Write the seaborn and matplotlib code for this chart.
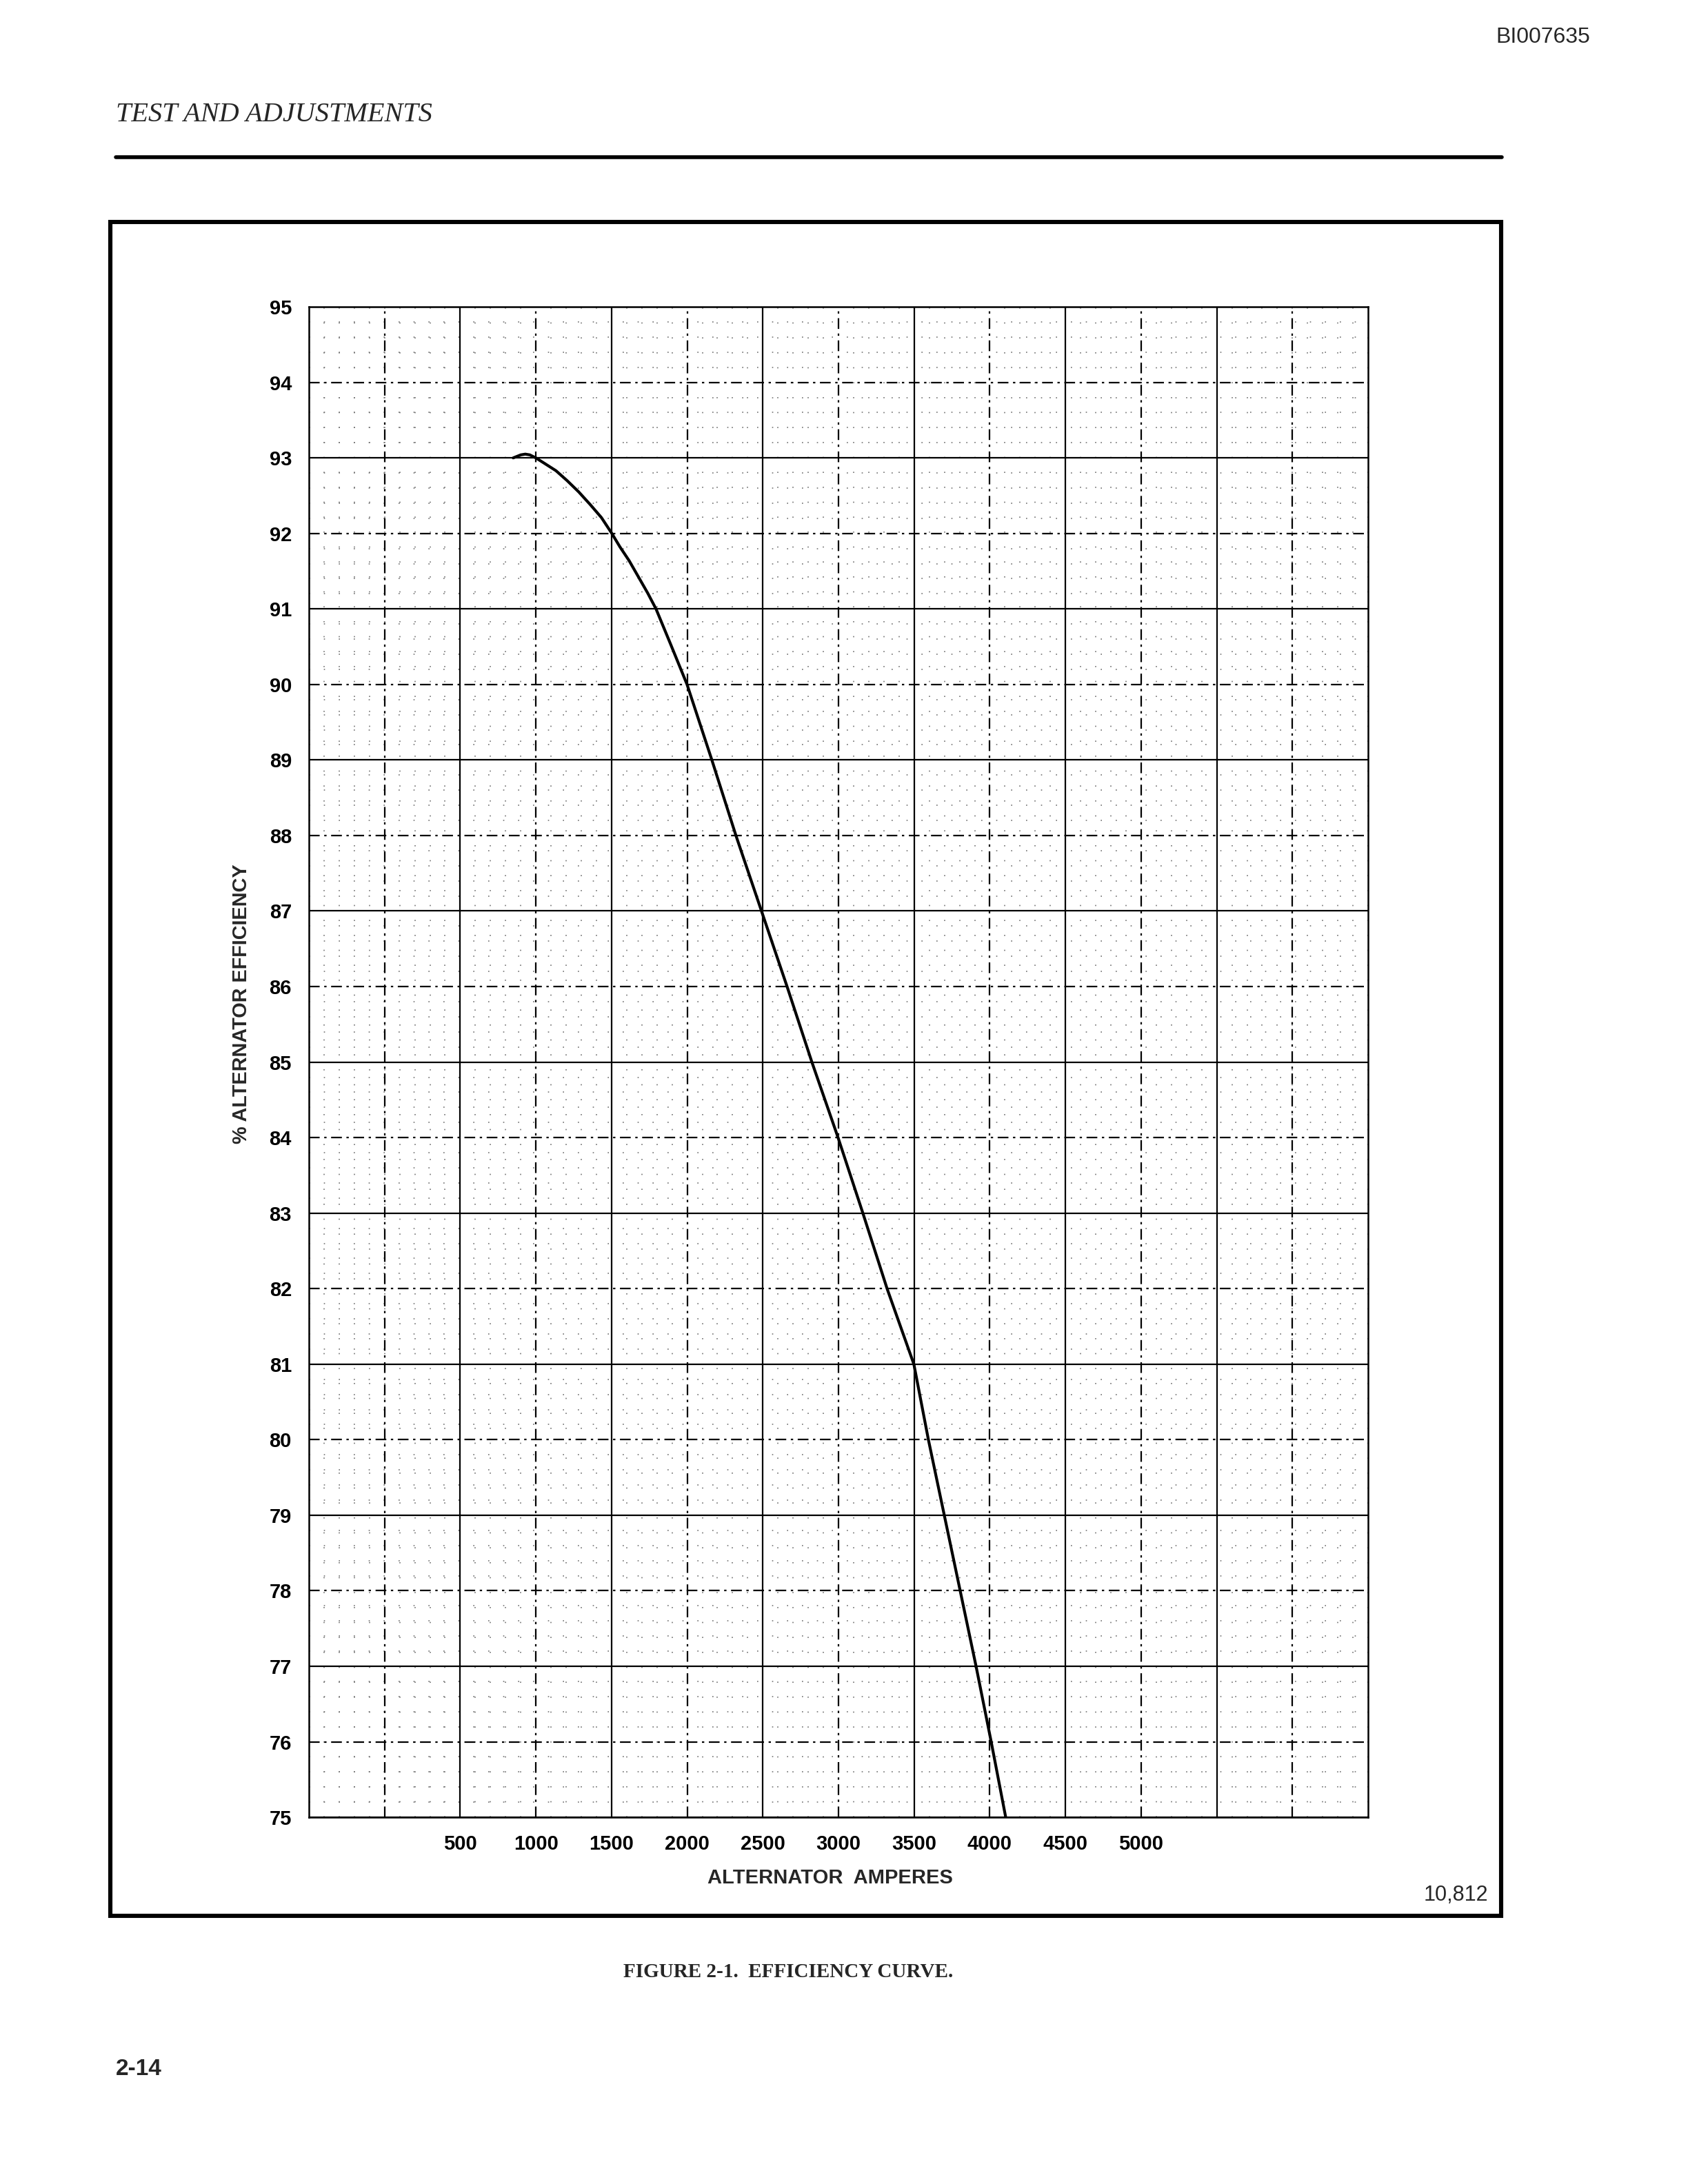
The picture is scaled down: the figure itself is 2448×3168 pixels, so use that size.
import numpy as np
import pandas as pd
import seaborn as sns
import matplotlib.pyplot as plt
from matplotlib.patches import Rectangle
from matplotlib.lines import Line2D

# values
amperes = [850, 900, 930, 960, 1000, 1055, 1133, 1206, 1283, 1360, 1433, 1502,
           1556, 1616, 1679, 1739, 1794, 1889, 1999, 2163, 2322, 2491, 2660,
           2824, 2997, 3161, 3321, 3498, 3594, 3699, 3804, 3909, 4009, 4105]
efficiency = [93.0, 93.04, 93.05, 93.04, 93.0, 92.93, 92.83, 92.70, 92.55, 92.38,
              92.21, 92.0, 91.82, 91.64, 91.42, 91.21, 91.0, 90.54, 90.0, 89,
              88, 87, 86, 85, 84, 83, 82, 81, 80, 79, 78, 77, 76, 75]

x_ticks = [500, 1000, 1500, 2000, 2500, 3000, 3500, 4000, 4500, 5000]
y_ticks = list(range(75, 96))

df = pd.DataFrame({'amps': amperes, 'eff': efficiency})

sns.set_theme(style="white")
plt.rcParams['font.family'] = ['Liberation Sans', 'DejaVu Sans']

fig = plt.figure(figsize=(12.24, 15.84), dpi=200)
ax = fig.add_axes([0.1830, 0.1679, 0.6275, 0.6916])

ax.set_xlim(-500, 6500)
ax.set_ylim(75, 95)

# graph paper: faint dotted minor grid
ax.set_xticks(np.arange(-500, 6501, 100), minor=True)
ax.set_yticks(np.arange(75, 95.01, 0.2), minor=True)
ax.grid(which='minor', color='0.45', lw=0.6, ls=(0, (1, 12)))
ax.grid(which='major', visible=False)

# major lines: odd values solid, even values dashed
for v in y_ticks:
    ls = '-' if v % 2 else (0, (7, 3, 1.5, 3))
    ax.axhline(v, color='black', lw=0.8, ls=ls, zorder=1)
for v in np.arange(0, 6001, 500):
    ls = '-' if (v // 500) % 2 else (0, (7, 3, 1.5, 3))
    ax.axvline(v, color='black', lw=0.8, ls=ls, zorder=1)

sns.lineplot(data=df, x='amps', y='eff', sort=False, color='black', lw=1.5,
             ax=ax, zorder=3)

ax.set_xticks(x_ticks)
ax.set_xticklabels([str(v) for v in x_ticks], fontweight='bold', fontsize=10.5)
ax.set_yticks(y_ticks)
ax.set_yticklabels([str(v) for v in y_ticks], fontweight='bold', fontsize=10.5)
ax.tick_params(axis='both', which='both', length=0, pad=9, colors='black')
ax.set_xlabel('')
ax.set_ylabel('')
for s in ax.spines.values():
    s.set_color('black')
    s.set_linewidth(0.9)

# page furniture
fig.add_artist(Rectangle((0.0655, 0.1228), 0.8238, 0.7756, fill=False,
                         lw=2.2, edgecolor='black', transform=fig.transFigure))
fig.add_artist(Line2D([0.0686, 0.8897], [0.928, 0.928], lw=2.0, color='black',
                      transform=fig.transFigure))

fig.text(0.942, 0.983, 'BI007635', ha='right', va='center', fontsize=11.5)
fig.text(0.0686, 0.9473, 'TEST AND ADJUSTMENTS', ha='left', va='center',
         fontsize=14.5, style='italic', family=['Liberation Serif', 'DejaVu Serif'])
fig.text(0.143, 0.5404, '% ALTERNATOR EFFICIENCY', rotation=90, ha='center',
         va='center', fontsize=10.4, fontweight='bold')
fig.text(0.492, 0.1402, 'ALTERNATOR  AMPERES', ha='center', va='center',
         fontsize=10.5, fontweight='bold')
fig.text(0.8815, 0.1322, '10,812', ha='right', va='center', fontsize=11)
fig.text(0.467, 0.0972, 'FIGURE 2-1.  EFFICIENCY CURVE.', ha='center',
         va='center', fontsize=10.5, fontweight='bold',
         family=['Liberation Serif', 'DejaVu Serif'])
fig.text(0.0686, 0.0524, '2-14', ha='left', va='center', fontsize=12,
         fontweight='bold')

fig.savefig('out.png', dpi=200)
